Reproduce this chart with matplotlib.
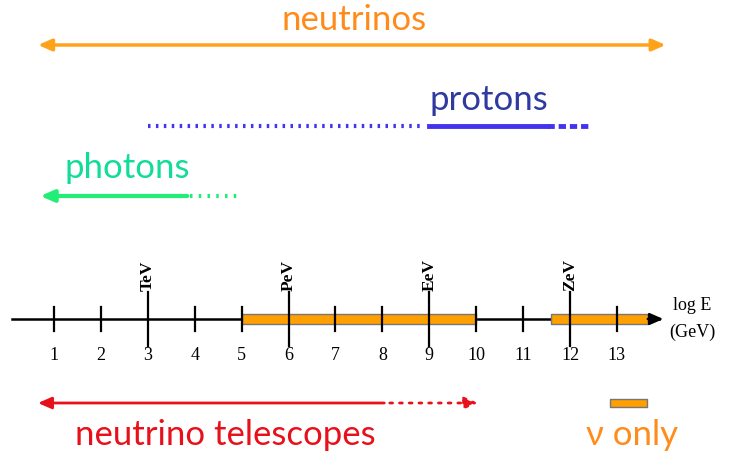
import matplotlib.pyplot as plt

# tick positions (log E / GeV) and unit labels
ticks = list(range(1, 14))
unit_ticks = [3, 6, 9, 12]
unit_labels = ['TeV', 'PeV', 'EeV', 'ZeV']

# neutrino-only energy windows
nu_only = [(5.0, 10.0), (11.6, 13.67)]

# ranges of each messenger (solid part, dotted/dashed extension)
neutrinos = (0.6, 14.1)
protons_dotted = (3.0, 8.8)
protons_solid = (9.0, 11.5)
protons_dashed = (11.5, 12.4)
photons_solid = (0.65, 3.9)
photons_dotted = (3.9, 5.0)
telescopes_solid = (0.6, 8.1)
telescopes_dotted = (8.1, 10.1)

fig = plt.figure(figsize=(7.29, 4.56), dpi=100)
ax = fig.add_axes([0, 0, 1, 1])
ax.set_xlim(-0.151, 15.39)
ax.set_ylim(456, 0)
ax.axis('off')

sans = 'Lato'
serif = 'Liberation Serif'

# energy axis: line under the bars, arrow head on top
ax.plot([0.1, 13.9], [320, 320], color='black', lw=1.8, zorder=2)
ax.annotate('', xy=(14.05, 320), xytext=(13.6, 320), zorder=6,
            arrowprops=dict(arrowstyle='-|>,head_length=0.8,head_width=0.35', color='black', lw=1.8))
for t in ticks:
    h = 27 if t in unit_ticks else 12
    ax.plot([t, t], [320 - h, 320 + h], color='black', lw=1.6, zorder=5)
    ax.text(t, 356, str(t), ha='center', va='center', fontsize=13, family=serif)
for t, lab in zip(unit_ticks, unit_labels):
    ax.text(t, 291, lab, rotation=90, ha='center', va='bottom', fontsize=12.5,
            family=serif, fontweight='bold')
for a, b in nu_only:
    ax.fill_between([a, b], 315, 325, facecolor='#FFA000', edgecolor='#777777', lw=1, zorder=4)
ax.text(14.2, 306, 'log E', ha='left', va='center', fontsize=13, family=serif)
ax.text(14.12, 332, '(GeV)', ha='left', va='center', fontsize=13, family=serif)

# neutrinos
ax.annotate('', xy=(neutrinos[0], 46), xytext=(neutrinos[1], 46),
            arrowprops=dict(arrowstyle='<|-|>,head_length=0.8,head_width=0.35', color='#FFA31A', lw=2.5))
ax.text(7.4, 20, 'neutrinos', ha='center', va='center', fontsize=25, color='#FF8C1A', family=sans)

# protons
ax.plot(protons_dotted, [127, 127], color='#4433EE', lw=3, ls=(0, (0.6, 1.3)))
ax.plot(protons_solid, [127, 127], color='#4433EE', lw=3.5)
ax.plot(protons_dashed, [127, 127], color='#4433EE', lw=3.5, ls=(0, (1.5, 0.8)))
ax.text(10.27, 100, 'protons', ha='center', va='center', fontsize=25, color='#2E3A9F', family=sans)

# photons
ax.annotate('', xy=(photons_solid[0], 197), xytext=(photons_solid[1], 197),
            arrowprops=dict(arrowstyle='-|>,head_length=0.8,head_width=0.35', color='#22EE77', lw=3))
ax.plot(photons_dotted, [197, 197], color='#22EE77', lw=3, ls=(0, (0.6, 1.5)))
ax.text(2.56, 168, 'photons', ha='center', va='center', fontsize=25, color='#11DD99', family=sans)

# neutrino telescopes
ax.annotate('', xy=(telescopes_solid[0], 404), xytext=(telescopes_solid[1], 404),
            arrowprops=dict(arrowstyle='-|>,head_length=0.8,head_width=0.35', color='#E8101A', lw=2))
ax.annotate('', xy=(telescopes_dotted[1], 404), xytext=(telescopes_dotted[0], 404),
            arrowprops=dict(arrowstyle='-|>,head_length=0.8,head_width=0.35', color='#E8101A', lw=2,
                            ls=(0, (1, 2.5))))
ax.text(4.65, 435, 'neutrino telescopes', ha='center', va='center', fontsize=25, color='#E8101A', family=sans)

# legend for nu only
ax.fill_between([12.85, 13.65], 400, 408, facecolor='#FFA000', edgecolor='#777777', lw=1)
ax.text(13.33, 435, 'ν only', ha='center', va='center', fontsize=25, color='#FF8C1A', family=sans)

fig.savefig('out.png', dpi=100)
